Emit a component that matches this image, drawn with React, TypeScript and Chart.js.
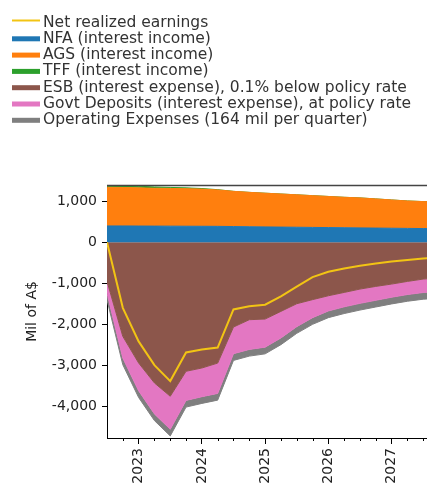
import React, { useEffect, useRef } from 'react';
import { Chart, registerables } from 'chart.js';

Chart.register(...registerables);

// Quarterly dates (decimal years)
const quarters = [
  2022.5, 2022.75, 2023, 2023.25, 2023.5, 2023.75, 2024, 2024.25, 2024.5, 2024.75, 2025,
  2025.25, 2025.5, 2025.75, 2026, 2026.25, 2026.5, 2026.75, 2027, 2027.25, 2027.5, 2027.75,
];

// Mil of A$
const netEarnings = [
  0, -1600, -2420, -3000, -3390, -2690, -2620, -2570, -1640, -1560, -1525,
  -1320, -1080, -850, -720, -640, -570, -520, -470, -430, -395, -370,
];
const nfaIncome = [
  400, 400, 398, 396, 395, 393, 392, 390, 385, 380, 376,
  372, 368, 364, 360, 356, 352, 348, 344, 340, 336, 332,
];
const agsIncome = [
  946, 940, 932, 924, 920, 917, 908, 890, 860, 840, 824,
  808, 792, 776, 760, 744, 733, 712, 691, 670, 659, 653,
];
const tffIncome = [
  70, 50, 40, 32, 26, 20, 14, 6, 0, 0, 0,
  0, 0, 0, 0, 0, 0, 0, 0, 0, 0, 0,
];
const esbExpense = [
  -950, -2297, -2947, -3435, -3760, -3150, -3070, -2950, -2070, -1890, -1874,
  -1687, -1500, -1400, -1305, -1224, -1142, -1077, -1020, -955, -898, -870,
];
const govtDepositsExpense = [
  -292, -529, -679, -756, -806, -711, -701, -741, -651, -726, -687,
  -649, -560, -440, -371, -352, -349, -339, -321, -321, -328, -331,
];
const operatingExpenses = [
  -164, -164, -164, -164, -164, -164, -164, -164, -164, -164, -164,
  -164, -164, -164, -164, -164, -164, -164, -164, -164, -164, -164,
];

const yearTicks = [2023, 2024, 2025, 2026, 2027];
const valueTicks = [-4000, -3000, -2000, -1000, 0, 1000];

const seriesLabels = [
  'Net realized earnings',
  'NFA (interest income)',
  'AGS (interest income)',
  'TFF (interest income)',
  'ESB (interest expense), 0.1% below policy rate',
  'Govt Deposits (interest expense), at policy rate',
  'Operating Expenses (164 mil per quarter)',
];

const FONT = "'DejaVu Sans', sans-serif";

const toPoints = (vals: number[]) => quarters.map((x, i) => ({ x, y: vals[i] }));

const area = (label: string, vals: number[], color: string, fill: string | number) => ({
  label,
  data: toPoints(vals),
  backgroundColor: color,
  borderColor: color,
  borderWidth: 1,
  pointRadius: 0,
  fill,
  stack: 'areas',
  tension: 0,
});

const decorPlugin = {
  id: 'decor',
  afterDraw(chart: any) {
    const { ctx, chartArea, scales } = chart;
    ctx.save();
    // top spine
    ctx.strokeStyle = '#444';
    ctx.lineWidth = 1.5;
    ctx.beginPath();
    ctx.moveTo(chartArea.left, chartArea.top + 0.5);
    ctx.lineTo(chartArea.right, chartArea.top + 0.5);
    ctx.stroke();
    // minor (quarterly) ticks
    ctx.strokeStyle = '#000';
    ctx.lineWidth = 1;
    quarters.forEach((q) => {
      if (Number.isInteger(q)) return;
      const x = Math.round(scales.x.getPixelForValue(q)) + 0.5;
      if (x <= chartArea.left + 1 || x > chartArea.right) return;
      ctx.beginPath();
      ctx.moveTo(x, chartArea.bottom);
      ctx.lineTo(x, chartArea.bottom + 3);
      ctx.stroke();
    });
    // legend
    const ds = chart.data.datasets;
    ctx.font = `15.5px ${FONT}`;
    ctx.textBaseline = 'middle';
    ctx.textAlign = 'left';
    ds.forEach((d: any, i: number) => {
      const y = 22.5 + i * 16.3;
      if (d.stack === 'net') {
        ctx.strokeStyle = d.borderColor;
        ctx.lineWidth = 2;
        ctx.beginPath();
        ctx.moveTo(12, y - 2);
        ctx.lineTo(40, y - 2);
        ctx.stroke();
      } else {
        ctx.fillStyle = d.backgroundColor;
        ctx.fillRect(12, y - 2.5, 28, 5);
      }
      ctx.fillStyle = '#333';
      ctx.fillText(d.label, 43, y);
    });
    ctx.restore();
  },
};

export default function App() {
  const ref = useRef<HTMLCanvasElement | null>(null);

  useEffect(() => {
    if (!ref.current) return;
    const chart = new Chart(ref.current, {
      type: 'line',
      data: {
        datasets: [
          {
            label: seriesLabels[0],
            data: toPoints(netEarnings),
            borderColor: '#f2c414',
            backgroundColor: '#f2c414',
            borderWidth: 2,
            pointRadius: 0,
            fill: false,
            stack: 'net',
            tension: 0,
          },
          area(seriesLabels[1], nfaIncome, '#1f77b4', 'origin'),
          area(seriesLabels[2], agsIncome, '#ff7f0e', '-1'),
          area(seriesLabels[3], tffIncome, '#2ca02c', '-1'),
          area(seriesLabels[4], esbExpense, '#8c564b', 'origin'),
          area(seriesLabels[5], govtDepositsExpense, '#e377c2', '-1'),
          area(seriesLabels[6], operatingExpenses, '#7f7f7f', '-1'),
        ] as any,
      },
      options: {
        responsive: false,
        animation: false,
        devicePixelRatio: 1,
        layout: { padding: { top: 185, left: 0, right: 0, bottom: 0 } },
        plugins: {
          legend: { display: false },
          tooltip: { enabled: false },
        },
        scales: {
          x: {
            type: 'linear',
            min: 2022.5,
            max: 2027.56,
            afterBuildTicks: (s: any) => {
              s.ticks = yearTicks.map((v) => ({ value: v }));
            },
            afterFit: (s: any) => {
              s.height = 47;
            },
            grid: { drawOnChartArea: false, drawTicks: true, tickLength: 6, color: '#000' },
            border: { display: true, color: '#000', width: 1 },
            ticks: {
              minRotation: 90,
              maxRotation: 90,
              autoSkip: false,
              padding: 4,
              color: '#222',
              font: { family: FONT, size: 14 },
              callback: (v: any) => String(v),
            },
          },
          y: {
            stacked: true,
            min: -4780,
            max: 1400,
            afterBuildTicks: (s: any) => {
              s.ticks = valueTicks.map((v) => ({ value: v }));
            },
            afterFit: (s: any) => {
              s.width = 107;
            },
            grid: { drawOnChartArea: false, drawTicks: true, tickLength: 5, color: '#000' },
            border: { display: true, color: '#000', width: 1 },
            ticks: {
              padding: 5,
              color: '#222',
              font: { family: FONT, size: 14 },
              callback: (v: any) => Number(v).toLocaleString('en-US'),
            },
            title: {
              display: true,
              text: 'Mil of A$',
              color: '#222',
              font: { family: FONT, size: 14 },
              padding: { top: 24, bottom: 0 },
            },
          },
        },
      } as any,
      plugins: [decorPlugin],
    });
    return () => chart.destroy();
  }, []);

  return (
    <div style={{ position: 'fixed', left: 0, top: 0, width: 427, height: 485, background: '#fff' }}>
      <canvas ref={ref} width={427} height={485} style={{ display: 'block' }} />
    </div>
  );
}
